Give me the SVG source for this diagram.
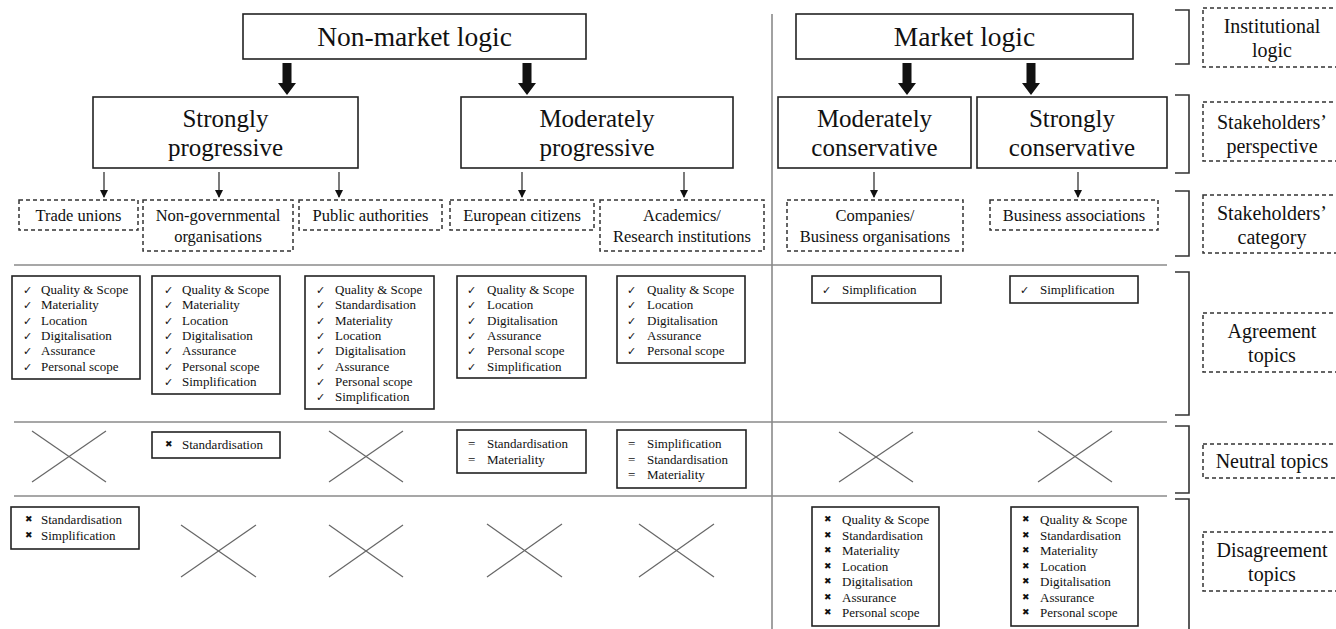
<svg xmlns="http://www.w3.org/2000/svg" width="1336" height="629" viewBox="0 0 1336 629">
<style>
text{font-family:"Liberation Serif","Times New Roman",serif;fill:#111}
.box{fill:#fff;stroke:#222;stroke-width:1.6}
.dbox{fill:#fff;stroke:#333;stroke-width:1.5;stroke-dasharray:4 3}
.sep{stroke:#8a8a8a;stroke-width:1.6;fill:none}
.cross{stroke:#666;stroke-width:1.2}
.brk{fill:none;stroke:#333;stroke-width:1.6}
.big{font-size:27.5px;text-anchor:middle}
.persp{font-size:25px;text-anchor:middle}
.cat{font-size:16.5px;text-anchor:middle}
.lab{font-size:20px;text-anchor:middle}
.it{font-size:13px}
.mk{font-family:"DejaVu Sans",sans-serif;font-size:11px}
.xm{font-family:"DejaVu Sans",sans-serif;font-size:9px}
.thin{stroke:#222;stroke-width:1.2}
</style>
<defs>
<marker id="ah" markerWidth="8" markerHeight="8" refX="7" refY="4" orient="auto" markerUnits="userSpaceOnUse">
<path d="M0,0 L8,4 L0,8 z" fill="#111"/>
</marker>
<path id="thick" d="M-4.5,0 H4.5 V20 H9 L0,32 L-9,20 H-4.5 Z" fill="#111"/>
</defs>

<!-- separators -->
<g id="separators">
<line class="sep" x1="772" y1="14" x2="772" y2="629"/>
<line class="sep" x1="14" y1="265" x2="1167" y2="265"/>
<line class="sep" x1="14" y1="422" x2="1167" y2="422"/>
<line class="sep" x1="14" y1="496" x2="1167" y2="496"/>
</g>

<!-- connectors -->
<g id="connectors">
<use href="#thick" x="287" y="63"/>
<use href="#thick" x="527" y="63"/>
<use href="#thick" x="907" y="63"/>
<use href="#thick" x="1031" y="63"/>
<line class="thin" x1="104" y1="172" x2="104" y2="197" marker-end="url(#ah)"/>
<line class="thin" x1="219" y1="172" x2="219" y2="197" marker-end="url(#ah)"/>
<line class="thin" x1="339" y1="172" x2="339" y2="197" marker-end="url(#ah)"/>
<line class="thin" x1="522" y1="172" x2="522" y2="197" marker-end="url(#ah)"/>
<line class="thin" x1="684" y1="172" x2="684" y2="197" marker-end="url(#ah)"/>
<line class="thin" x1="874" y1="172" x2="874" y2="197" marker-end="url(#ah)"/>
<line class="thin" x1="1078" y1="172" x2="1078" y2="197" marker-end="url(#ah)"/>
</g>

<!-- institutional logic -->
<g id="non-market-logic"><rect class="box" x="243" y="14" width="343" height="45"/><text class="big" x="414.5" y="46">Non-market logic</text></g>
<g id="market-logic"><rect class="box" x="796" y="14" width="337" height="45"/><text class="big" x="964.5" y="46">Market logic</text></g>

<!-- perspectives -->
<g id="strongly-progressive"><rect class="box" x="93" y="97" width="265" height="71"/><text class="persp" x="225.5" y="127">Strongly</text><text class="persp" x="225.5" y="156">progressive</text></g>
<g id="moderately-progressive"><rect class="box" x="461" y="97" width="272" height="71"/><text class="persp" x="597" y="127">Moderately</text><text class="persp" x="597" y="156">progressive</text></g>
<g id="moderately-conservative"><rect class="box" x="778" y="97" width="193" height="71"/><text class="persp" x="874.5" y="127">Moderately</text><text class="persp" x="874.5" y="156">conservative</text></g>
<g id="strongly-conservative"><rect class="box" x="977" y="97" width="190" height="71"/><text class="persp" x="1072" y="127">Strongly</text><text class="persp" x="1072" y="156">conservative</text></g>

<!-- categories -->
<g id="trade-unions"><rect class="dbox" x="19" y="200" width="119" height="30"/><text class="cat" x="78.5" y="221">Trade unions</text></g>
<g id="ngo"><rect class="dbox" x="143" y="200" width="150" height="51"/><text class="cat" x="218" y="221">Non-governmental</text><text class="cat" x="218" y="242">organisations</text></g>
<g id="public-authorities"><rect class="dbox" x="299" y="200" width="143" height="30"/><text class="cat" x="370.5" y="221">Public authorities</text></g>
<g id="european-citizens"><rect class="dbox" x="450" y="200" width="144" height="30"/><text class="cat" x="522" y="221">European citizens</text></g>
<g id="academics"><rect class="dbox" x="600" y="200" width="164" height="51"/><text class="cat" x="682" y="221">Academics/</text><text class="cat" x="682" y="242">Research institutions</text></g>
<g id="companies"><rect class="dbox" x="787" y="200" width="176" height="51"/><text class="cat" x="875" y="221">Companies/</text><text class="cat" x="875" y="242">Business organisations</text></g>
<g id="business-associations"><rect class="dbox" x="990" y="200" width="168" height="30"/><text class="cat" x="1074" y="221">Business associations</text></g>

<!-- agreement topics -->
<g id="agree-trade-unions"><rect class="box" x="12" y="276" width="128" height="103"/>
<text class="mk" x="23" y="294">✓</text><text class="mk" x="23" y="309.3">✓</text><text class="mk" x="23" y="324.6">✓</text><text class="mk" x="23" y="339.9">✓</text><text class="mk" x="23" y="355.2">✓</text><text class="mk" x="23" y="370.5">✓</text>
<text class="it" x="41" y="294">Quality &amp; Scope</text><text class="it" x="41" y="309.3">Materiality</text><text class="it" x="41" y="324.6">Location</text><text class="it" x="41" y="339.9">Digitalisation</text><text class="it" x="41" y="355.2">Assurance</text><text class="it" x="41" y="370.5">Personal scope</text></g>

<g id="agree-ngo"><rect class="box" x="152" y="276" width="128" height="118"/>
<text class="mk" x="164" y="294">✓</text><text class="mk" x="164" y="309.3">✓</text><text class="mk" x="164" y="324.6">✓</text><text class="mk" x="164" y="339.9">✓</text><text class="mk" x="164" y="355.2">✓</text><text class="mk" x="164" y="370.5">✓</text><text class="mk" x="164" y="385.8">✓</text>
<text class="it" x="182" y="294">Quality &amp; Scope</text><text class="it" x="182" y="309.3">Materiality</text><text class="it" x="182" y="324.6">Location</text><text class="it" x="182" y="339.9">Digitalisation</text><text class="it" x="182" y="355.2">Assurance</text><text class="it" x="182" y="370.5">Personal scope</text><text class="it" x="182" y="385.8">Simplification</text></g>

<g id="agree-public-authorities"><rect class="box" x="305" y="276" width="129" height="133"/>
<text class="mk" x="316" y="294">✓</text><text class="mk" x="316" y="309.3">✓</text><text class="mk" x="316" y="324.6">✓</text><text class="mk" x="316" y="339.9">✓</text><text class="mk" x="316" y="355.2">✓</text><text class="mk" x="316" y="370.5">✓</text><text class="mk" x="316" y="385.8">✓</text><text class="mk" x="316" y="401.1">✓</text>
<text class="it" x="335" y="294">Quality &amp; Scope</text><text class="it" x="335" y="309.3">Standardisation</text><text class="it" x="335" y="324.6">Materiality</text><text class="it" x="335" y="339.9">Location</text><text class="it" x="335" y="355.2">Digitalisation</text><text class="it" x="335" y="370.5">Assurance</text><text class="it" x="335" y="385.8">Personal scope</text><text class="it" x="335" y="401.1">Simplification</text></g>

<g id="agree-european-citizens"><rect class="box" x="457" y="276" width="129" height="102"/>
<text class="mk" x="467" y="294">✓</text><text class="mk" x="467" y="309.3">✓</text><text class="mk" x="467" y="324.6">✓</text><text class="mk" x="467" y="339.9">✓</text><text class="mk" x="467" y="355.2">✓</text><text class="mk" x="467" y="370.5">✓</text>
<text class="it" x="487" y="294">Quality &amp; Scope</text><text class="it" x="487" y="309.3">Location</text><text class="it" x="487" y="324.6">Digitalisation</text><text class="it" x="487" y="339.9">Assurance</text><text class="it" x="487" y="355.2">Personal scope</text><text class="it" x="487" y="370.5">Simplification</text></g>

<g id="agree-academics"><rect class="box" x="617" y="276" width="128" height="87"/>
<text class="mk" x="627" y="294">✓</text><text class="mk" x="627" y="309.3">✓</text><text class="mk" x="627" y="324.6">✓</text><text class="mk" x="627" y="339.9">✓</text><text class="mk" x="627" y="355.2">✓</text>
<text class="it" x="647" y="294">Quality &amp; Scope</text><text class="it" x="647" y="309.3">Location</text><text class="it" x="647" y="324.6">Digitalisation</text><text class="it" x="647" y="339.9">Assurance</text><text class="it" x="647" y="355.2">Personal scope</text></g>

<g id="agree-companies"><rect class="box" x="812" y="276" width="129" height="27"/><text class="mk" x="822" y="294">✓</text><text class="it" x="842" y="294">Simplification</text></g>
<g id="agree-business-associations"><rect class="box" x="1010" y="276" width="128" height="27"/><text class="mk" x="1020" y="294">✓</text><text class="it" x="1040" y="294">Simplification</text></g>

<!-- neutral topics -->
<g id="neutral-trade-unions"><line class="cross" x1="32" y1="431" x2="106" y2="482"/><line class="cross" x1="106" y1="431" x2="32" y2="482"/></g>
<g id="neutral-ngo"><rect class="box" x="152" y="432" width="128" height="26"/><text class="xm" x="165" y="447">✖</text><text class="it" x="182" y="449">Standardisation</text></g>
<g id="neutral-public-authorities"><line class="cross" x1="329" y1="431" x2="403" y2="482"/><line class="cross" x1="403" y1="431" x2="329" y2="482"/></g>
<g id="neutral-european-citizens"><rect class="box" x="457" y="430" width="129" height="43"/>
<text class="it" x="468" y="448">=</text><text class="it" x="468" y="464">=</text>
<text class="it" x="487" y="448">Standardisation</text><text class="it" x="487" y="464">Materiality</text></g>
<g id="neutral-academics"><rect class="box" x="617" y="430" width="129" height="58"/>
<text class="it" x="628" y="448">=</text><text class="it" x="628" y="463.5">=</text><text class="it" x="628" y="479">=</text>
<text class="it" x="647" y="448">Simplification</text><text class="it" x="647" y="463.5">Standardisation</text><text class="it" x="647" y="479">Materiality</text></g>
<g id="neutral-companies"><line class="cross" x1="839" y1="432" x2="913" y2="482"/><line class="cross" x1="913" y1="432" x2="839" y2="482"/></g>
<g id="neutral-business-associations"><line class="cross" x1="1038" y1="431" x2="1112" y2="482"/><line class="cross" x1="1112" y1="431" x2="1038" y2="482"/></g>

<!-- disagreement topics -->
<g id="disagree-trade-unions"><rect class="box" x="11" y="507" width="128" height="42"/>
<text class="xm" x="25" y="522">✖</text><text class="xm" x="25" y="538">✖</text>
<text class="it" x="41" y="524">Standardisation</text><text class="it" x="41" y="540">Simplification</text></g>
<g id="disagree-ngo"><line class="cross" x1="181" y1="525" x2="256" y2="577"/><line class="cross" x1="256" y1="525" x2="181" y2="577"/></g>
<g id="disagree-public-authorities"><line class="cross" x1="329" y1="525" x2="403" y2="577"/><line class="cross" x1="403" y1="525" x2="329" y2="577"/></g>
<g id="disagree-european-citizens"><line class="cross" x1="487" y1="524" x2="562" y2="577"/><line class="cross" x1="562" y1="524" x2="487" y2="577"/></g>
<g id="disagree-academics"><line class="cross" x1="639" y1="524" x2="714" y2="577"/><line class="cross" x1="714" y1="524" x2="639" y2="577"/></g>
<g id="disagree-companies"><rect class="box" x="812" y="507" width="127" height="119"/>
<text class="xm" x="824" y="522">✖</text><text class="xm" x="824" y="537.5">✖</text><text class="xm" x="824" y="553">✖</text><text class="xm" x="824" y="568.5">✖</text><text class="xm" x="824" y="584">✖</text><text class="xm" x="824" y="599.5">✖</text><text class="xm" x="824" y="615">✖</text>
<text class="it" x="842" y="524">Quality &amp; Scope</text><text class="it" x="842" y="539.5">Standardisation</text><text class="it" x="842" y="555">Materiality</text><text class="it" x="842" y="570.5">Location</text><text class="it" x="842" y="586">Digitalisation</text><text class="it" x="842" y="601.5">Assurance</text><text class="it" x="842" y="617">Personal scope</text></g>
<g id="disagree-business-associations"><rect class="box" x="1011" y="507" width="127" height="119"/>
<text class="xm" x="1022" y="522">✖</text><text class="xm" x="1022" y="537.5">✖</text><text class="xm" x="1022" y="553">✖</text><text class="xm" x="1022" y="568.5">✖</text><text class="xm" x="1022" y="584">✖</text><text class="xm" x="1022" y="599.5">✖</text><text class="xm" x="1022" y="615">✖</text>
<text class="it" x="1040" y="524">Quality &amp; Scope</text><text class="it" x="1040" y="539.5">Standardisation</text><text class="it" x="1040" y="555">Materiality</text><text class="it" x="1040" y="570.5">Location</text><text class="it" x="1040" y="586">Digitalisation</text><text class="it" x="1040" y="601.5">Assurance</text><text class="it" x="1040" y="617">Personal scope</text></g>

<!-- brackets -->
<g id="brackets">
<path class="brk" d="M1175,10 H1189 V64 H1175"/>
<path class="brk" d="M1175,95 H1189 V173 H1175"/>
<path class="brk" d="M1175,191 H1189 V256 H1175"/>
<path class="brk" d="M1175,272 H1189 V415 H1175"/>
<path class="brk" d="M1175,426 H1189 V493 H1175"/>
<path class="brk" d="M1175,499 H1189 V640"/>
</g>

<!-- right labels -->
<g id="label-institutional-logic"><rect class="dbox" x="1203" y="8" width="140" height="59"/><text class="lab" x="1272" y="33">Institutional</text><text class="lab" x="1272" y="57">logic</text></g>
<g id="label-stakeholders-perspective"><rect class="dbox" x="1203" y="102" width="140" height="59"/><text class="lab" x="1272" y="129">Stakeholders’</text><text class="lab" x="1272" y="153">perspective</text></g>
<g id="label-stakeholders-category"><rect class="dbox" x="1203" y="195" width="140" height="58"/><text class="lab" x="1272" y="220">Stakeholders’</text><text class="lab" x="1272" y="244">category</text></g>
<g id="label-agreement-topics"><rect class="dbox" x="1203" y="313" width="140" height="59"/><text class="lab" x="1272" y="338">Agreement</text><text class="lab" x="1272" y="362">topics</text></g>
<g id="label-neutral-topics"><rect class="dbox" x="1203" y="444" width="140" height="34"/><text class="lab" x="1272" y="468">Neutral topics</text></g>
<g id="label-disagreement-topics"><rect class="dbox" x="1203" y="532" width="140" height="59"/><text class="lab" x="1272" y="557">Disagreement</text><text class="lab" x="1272" y="581">topics</text></g>
</svg>
